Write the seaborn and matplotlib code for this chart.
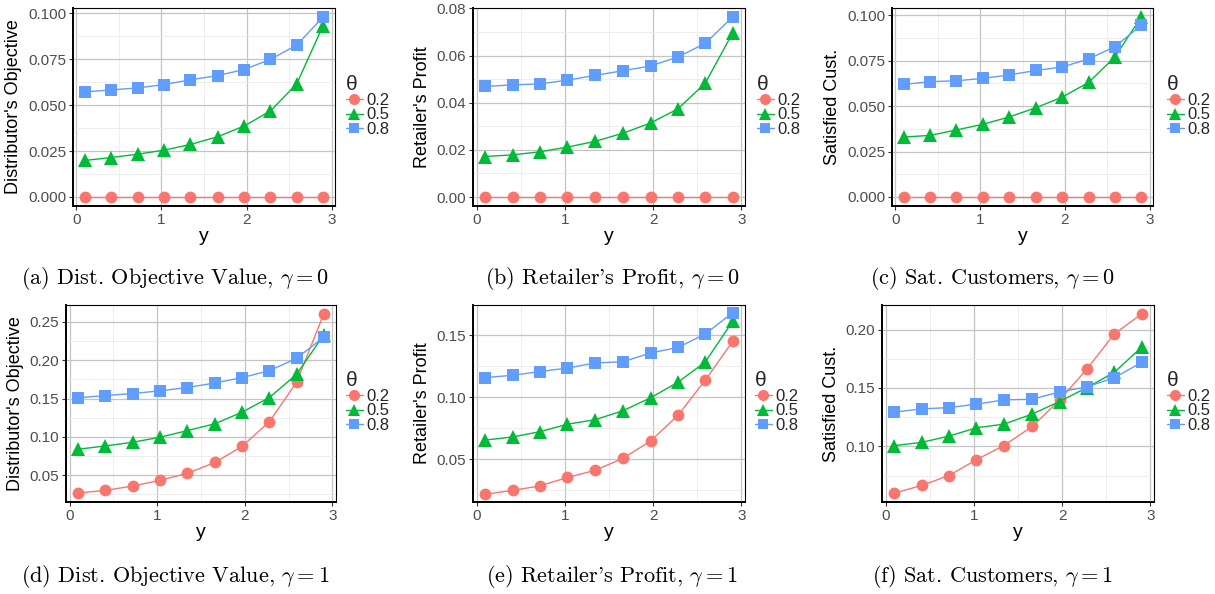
import numpy as np
import pandas as pd
import matplotlib
matplotlib.use("Agg")
import matplotlib.pyplot as plt
import seaborn as sns
from matplotlib.lines import Line2D
from matplotlib.ticker import MultipleLocator, FormatStrFormatter

# ---------------- data ----------------
y_values = [0.1, 0.41, 0.72, 1.03, 1.34, 1.66, 1.97, 2.28, 2.59, 2.9]
theta_levels = ["0.2", "0.5", "0.8"]

# gamma = 0
dist_g0_t02 = [0.0, 0.0, 0.0, 0.0, 0.0, 0.0, 0.0, 0.0, 0.0, 0.0]
dist_g0_t05 = [0.0199, 0.0215, 0.0233, 0.0255, 0.0286, 0.0328, 0.0386, 0.0468, 0.0616, 0.0933]
dist_g0_t08 = [0.0572, 0.0583, 0.0594, 0.0612, 0.0638, 0.0661, 0.0694, 0.0749, 0.0827, 0.0980]

ret_g0_t02 = [0.0, 0.0, 0.0, 0.0, 0.0, 0.0, 0.0, 0.0, 0.0, 0.0]
ret_g0_t05 = [0.0172, 0.0179, 0.0192, 0.0212, 0.0236, 0.0271, 0.0314, 0.0374, 0.0483, 0.0696]
ret_g0_t08 = [0.0469, 0.0476, 0.0480, 0.0496, 0.0516, 0.0536, 0.0556, 0.0594, 0.0652, 0.0764]

sat_g0_t02 = [0.0, 0.0, 0.0, 0.0, 0.0, 0.0, 0.0, 0.0, 0.0, 0.0]
sat_g0_t05 = [0.0330, 0.0339, 0.0369, 0.0400, 0.0440, 0.0492, 0.0550, 0.0631, 0.0771, 0.0991]
sat_g0_t08 = [0.0620, 0.0635, 0.0640, 0.0653, 0.0672, 0.0697, 0.0716, 0.0760, 0.0828, 0.0945]

# gamma = 1
dist_g1_t02 = [0.0266, 0.0301, 0.0357, 0.0431, 0.0522, 0.0665, 0.0877, 0.1197, 0.1712, 0.2604]
dist_g1_t05 = [0.0838, 0.0881, 0.0929, 0.0994, 0.1080, 0.1171, 0.1323, 0.1513, 0.1816, 0.2330]
dist_g1_t08 = [0.1509, 0.1539, 0.1565, 0.1600, 0.1643, 0.1703, 0.1773, 0.1864, 0.2024, 0.2301]

ret_g1_t02 = [0.0217, 0.0249, 0.0285, 0.0353, 0.0410, 0.0508, 0.0647, 0.0854, 0.1138, 0.1451]
ret_g1_t05 = [0.0655, 0.0680, 0.0723, 0.0783, 0.0819, 0.0892, 0.0996, 0.1121, 0.1285, 0.1614]
ret_g1_t08 = [0.1159, 0.1178, 0.1208, 0.1236, 0.1277, 0.1287, 0.1358, 0.1402, 0.1511, 0.1683]

sat_g1_t02 = [0.0599, 0.0665, 0.0750, 0.0886, 0.1006, 0.1170, 0.1395, 0.1662, 0.1963, 0.2134]
sat_g1_t05 = [0.1006, 0.1034, 0.1088, 0.1159, 0.1190, 0.1276, 0.1384, 0.1503, 0.1634, 0.1849]
sat_g1_t08 = [0.1293, 0.1321, 0.1332, 0.1361, 0.1398, 0.1403, 0.1466, 0.1509, 0.1588, 0.1719]

ylabels = ["Distributor's Objective", "Retailer's Profit", "Satisfied Cust."]
captions = [
    r"(a) Dist. Objective Value, $\gamma = 0$",
    r"(b) Retailer's Profit, $\gamma = 0$",
    r"(c) Sat. Customers, $\gamma = 0$",
    r"(d) Dist. Objective Value, $\gamma = 1$",
    r"(e) Retailer's Profit, $\gamma = 1$",
    r"(f) Sat. Customers, $\gamma = 1$",
]
panel_series = [
    (dist_g0_t02, dist_g0_t05, dist_g0_t08),
    (ret_g0_t02, ret_g0_t05, ret_g0_t08),
    (sat_g0_t02, sat_g0_t05, sat_g0_t08),
    (dist_g1_t02, dist_g1_t05, dist_g1_t08),
    (ret_g1_t02, ret_g1_t05, ret_g1_t08),
    (sat_g1_t02, sat_g1_t05, sat_g1_t08),
]

# ---------------- style ----------------
sns.set_theme(style="white")
plt.rcParams["font.family"] = ["Liberation Sans", "DejaVu Sans"]
plt.rcParams["mathtext.fontset"] = "cm"

colors = ["#F8766D", "#00BA38", "#619CFF"]
markers = ["o", "^", "s"]
msizes = [8.5, 9.5, 8.5]
leg_msizes = [8.0, 8.5, 7.5]

W, H = 1215, 594
fig = plt.figure(figsize=(W / 100, H / 100), dpi=100)

# pixel boxes (left, right, top, bottom)
boxes = [
    (73, 335, 8, 206), (473, 745, 8, 206), (892, 1153, 8, 206),
    (66, 336, 305, 502), (473, 745, 305, 502), (882, 1154, 305, 502),
]
legend_pos = [(346, 97), (757, 97), (1167, 97), (346, 393), (755, 393), (1167, 393)]
caption_pos = [(175, 279), (612, 279), (993, 279), (175, 576), (612, 576), (993, 576)]
major_steps = [0.025, 0.02, 0.025, 0.05, 0.05, 0.05]
fmts = ["%.3f", "%.2f", "%.3f", "%.2f", "%.2f", "%.2f"]
ylims = [(-0.0049, 0.1029), (-0.0038, 0.0802), (-0.0050, 0.1041),
         (0.0149, 0.2721), (0.0155, 0.1745), (0.0523, 0.2211)]

for i in range(6):
    l, r, t, b = boxes[i]
    ax = fig.add_axes([l / W, 1 - b / H, (r - l) / W, (b - t) / H])
    s02, s05, s08 = panel_series[i]
    df = pd.DataFrame({
        "y": y_values * 3,
        "value": list(s02) + list(s05) + list(s08),
        "theta": [theta_levels[0]] * 10 + [theta_levels[1]] * 10 + [theta_levels[2]] * 10,
    })
    for k, th in enumerate(theta_levels):
        sub = df[df["theta"] == th]
        sns.lineplot(data=sub, x="y", y="value", color=colors[k], marker=markers[k],
                     markersize=msizes[k], markeredgewidth=0, linewidth=1.0,
                     ax=ax, legend=False, zorder=3 + k)
    ax.set_xlim(-0.04, 3.04)
    ax.set_ylim(*ylims[i])
    ax.xaxis.set_major_locator(MultipleLocator(1))
    ax.xaxis.set_minor_locator(MultipleLocator(0.5))
    ax.yaxis.set_major_locator(MultipleLocator(major_steps[i]))
    ax.yaxis.set_minor_locator(MultipleLocator(major_steps[i] / 2))
    ax.yaxis.set_major_formatter(FormatStrFormatter(fmts[i]))
    ax.grid(which="major", color="#C4C4C4", linewidth=0.9)
    ax.grid(which="minor", color="#EBEBEB", linewidth=0.6)
    ax.set_axisbelow(True)
    for side, sp in ax.spines.items():
        sp.set_visible(True)
        sp.set_color("black")
        sp.set_linewidth(1.4 if side in ("left", "bottom") else 0.8)
    ax.tick_params(which="major", length=3, width=0.8, color="#333333",
                   labelsize=11, labelcolor="#4D4D4D", pad=2,
                   bottom=True, left=True)
    ax.tick_params(which="minor", length=0)
    ax.set_xlabel("y", fontsize=14, labelpad=1, color="black")
    ax.set_ylabel(ylabels[i % 3], fontsize=13, labelpad=4, color="black")

    handles = [Line2D([0], [0], color=colors[k], marker=markers[k], markersize=leg_msizes[k],
                      markeredgewidth=0, linewidth=1.0) for k in range(3)]
    lx, ly = legend_pos[i]
    leg = ax.legend(handles, theta_levels, title="θ", loc="upper left",
                    bbox_to_anchor=(lx / W, 1 - (ly - 22) / H), bbox_transform=fig.transFigure,
                    frameon=False, fontsize=12, title_fontsize=15, handlelength=1.0,
                    handletextpad=0.2, labelspacing=-0.05, borderaxespad=0, borderpad=0)
    leg._legend_box.align = "left"

    cx, cy = caption_pos[i]
    fig.text(cx / W, 1 - cy / H, captions[i], ha="center", va="center", fontsize=16,
             family=["cmr10", "DejaVu Serif"], color="black")

fig.savefig("out.png", dpi=100)
